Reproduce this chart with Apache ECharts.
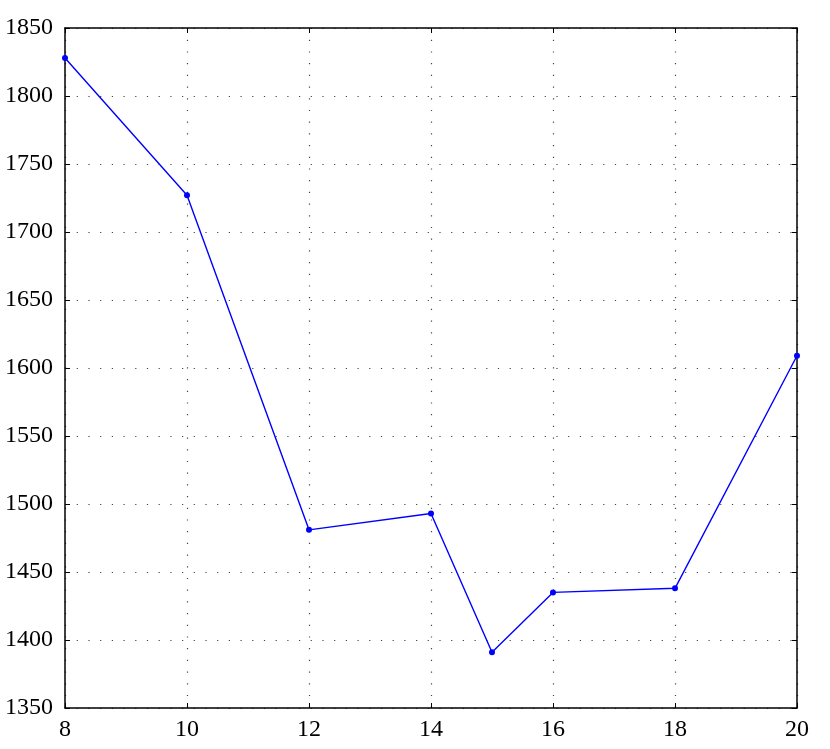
<!DOCTYPE html>
<html>
<head>
<meta charset="utf-8">
<script src="https://cdn.jsdelivr.net/npm/echarts@6/dist/echarts.min.js"></script>
<style>
    html, body { margin: 0; padding: 0; background: #fff; }
    #chart { width: 830px; height: 749px; }
</style>
</head>
<body>
<div id="chart"></div>
<script>
// data
var xValues = [8, 10, 12, 14, 15, 16, 18, 20];
var yValues = [1828, 1727, 1481, 1493, 1391, 1435, 1438, 1609];

var points = xValues.map(function (x, i) { return [x, yValues[i]]; });

var font = "Liberation Serif";
var gridLine = { show: true, lineStyle: { color: "#444", width: 1.2, type: [1.2, 10.5] } };
var plain = function (v) { return String(v); };

var chart = echarts.init(document.getElementById("chart"));
chart.setOption({
    animation: false,
    grid: { left: 65, right: 33, top: 28, bottom: 41 },
    xAxis: [
        {
            type: "value", min: 8, max: 20, interval: 2,
            axisLine: { lineStyle: { color: "#000", width: 1.5 } },
            axisTick: { inside: true, length: 5, lineStyle: { color: "#000" } },
            axisLabel: { color: "#000", fontFamily: font, fontSize: 24, margin: 10, formatter: plain },
            splitLine: gridLine
        },
        {
            type: "value", min: 8, max: 20, interval: 2, position: "top",
            axisLine: { lineStyle: { color: "#000", width: 1.5 } },
            axisTick: { inside: true, length: 5, lineStyle: { color: "#000" } },
            axisLabel: { show: false },
            splitLine: { show: false }
        }
    ],
    yAxis: [
        {
            type: "value", min: 1350, max: 1850, interval: 50,
            axisLine: { show: true, lineStyle: { color: "#000", width: 1.5 } },
            axisTick: { show: true, inside: true, length: 5, lineStyle: { color: "#000" } },
            axisLabel: { color: "#000", fontFamily: font, fontSize: 24, margin: 12, formatter: plain },
            splitLine: gridLine
        },
        {
            type: "value", min: 1350, max: 1850, interval: 50, position: "right",
            axisLine: { show: true, lineStyle: { color: "#000", width: 1.5 } },
            axisTick: { show: true, inside: true, length: 5, lineStyle: { color: "#000" } },
            axisLabel: { show: false },
            splitLine: { show: false }
        }
    ],
    series: [
        {
            type: "line",
            data: points,
            symbol: "circle",
            symbolSize: 6,
            lineStyle: { color: "#0000ff", width: 1.4 },
            itemStyle: { color: "#0000ff" },
            z: 5
        }
    ]
});
</script>
</body>
</html>
